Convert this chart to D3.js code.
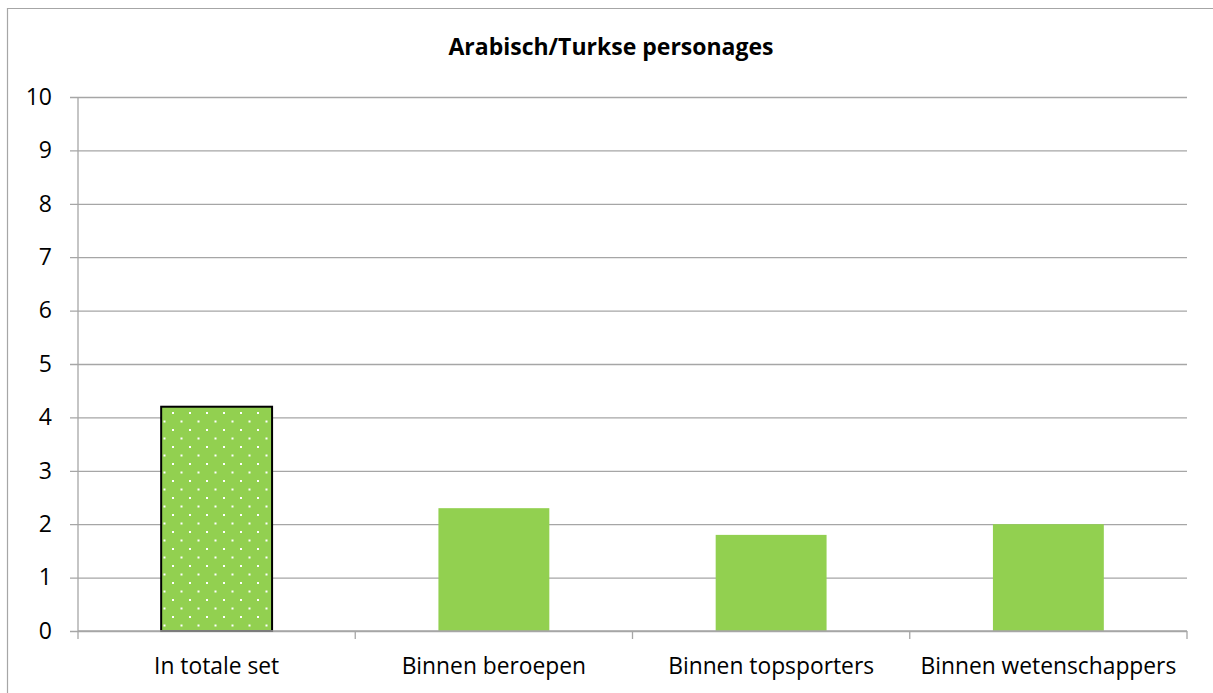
<!DOCTYPE html>
<html><head><meta charset="utf-8">
<script src="https://cdn.jsdelivr.net/npm/d3@7"></script>
<style>body{margin:0;background:#fff}svg{display:block}</style>
</head><body>
<svg id="c" width="1213" height="693"></svg>
<script>
const categories = ["In totale set","Binnen beroepen","Binnen topsporters","Binnen wetenschappers"];
const values = [4.2, 2.3, 1.8, 2.0];
const patterned = [true, false, false, false];
const yTicks = [0,1,2,3,4,5,6,7,8,9,10];
const title = "Arabisch/Turkse personages";

const svg = d3.select("#c");
const font = "'Open Sans', sans-serif";
const L = 78, R = 1187, T = 97, B = 631;
const green = "#92D050", grid = "#A6A6A6";

// frame
svg.append("path").attr("d","M7.5,693 V8.5 H1213").attr("fill","none").attr("stroke",grid).attr("stroke-width",1.2);

const defs = svg.append("defs");
const pat = defs.append("pattern").attr("id","dots").attr("patternUnits","userSpaceOnUse")
  .attr("width",17).attr("height",17).attr("x",162).attr("y",410);
pat.append("rect").attr("width",17).attr("height",17).attr("fill",green);
pat.append("rect").attr("x",10).attr("y",2).attr("width",2).attr("height",2).attr("fill","#fff");
pat.append("rect").attr("x",1.5).attr("y",10.5).attr("width",2).attr("height",2).attr("fill","#fff");

const x = d3.scaleBand().domain(categories).range([L,R]).paddingInner(0.6).paddingOuter(0.3);
const xc = d3.scaleBand().domain(categories).range([L,R]).padding(0);
const y = d3.scaleLinear().domain([0,10]).range([B,T]);

// gridlines + y ticks
const yAxis = d3.axisLeft(y).tickValues(yTicks).tickSize(-(R-L)).tickPadding(26).tickFormat(d3.format("d"));
const gy = svg.append("g").attr("transform",`translate(${L},0)`).call(yAxis);
gy.select(".domain").remove();
gy.selectAll(".tick line").attr("x1",-8).attr("stroke",grid).attr("stroke-width",1.3);
gy.selectAll(".tick text").attr("font-family",font).attr("font-size",23).attr("fill","#000");

// y axis line
svg.append("line").attr("x1",L).attr("x2",L).attr("y1",T).attr("y2",B).attr("stroke",grid).attr("stroke-width",1.3);

// bars
svg.append("g").selectAll("rect").data(categories).join("rect")
  .attr("x",d=>x(d)).attr("width",x.bandwidth())
  .attr("y",(d,i)=>y(values[i])).attr("height",(d,i)=>B-y(values[i]))
  .attr("fill",(d,i)=>patterned[i]?"url(#dots)":green)
  .attr("stroke",(d,i)=>patterned[i]?"#000":"none").attr("stroke-width",2);

// x axis
const gx = svg.append("g").attr("transform",`translate(0,${B})`);
gx.append("line").attr("x1",L).attr("x2",R).attr("stroke",grid).attr("stroke-width",1.3);
const edges = categories.map(c=>xc(c)).concat([R]);
gx.selectAll("line.t").data(edges).join("line").attr("class","t")
  .attr("x1",d=>d).attr("x2",d=>d).attr("y1",0).attr("y2",8).attr("stroke",grid).attr("stroke-width",1.3);
gx.selectAll("text").data(categories).join("text")
  .attr("x",d=>xc(d)+xc.bandwidth()/2).attr("y",43).attr("text-anchor","middle")
  .attr("font-family",font).attr("font-size",22.8).attr("fill","#000").text(d=>d);

svg.append("text").attr("x",611).attr("y",55).attr("text-anchor","middle")
  .attr("font-family",font).attr("font-weight","bold").attr("font-size",23).attr("fill","#000").text(title);
</script>
</body></html>
